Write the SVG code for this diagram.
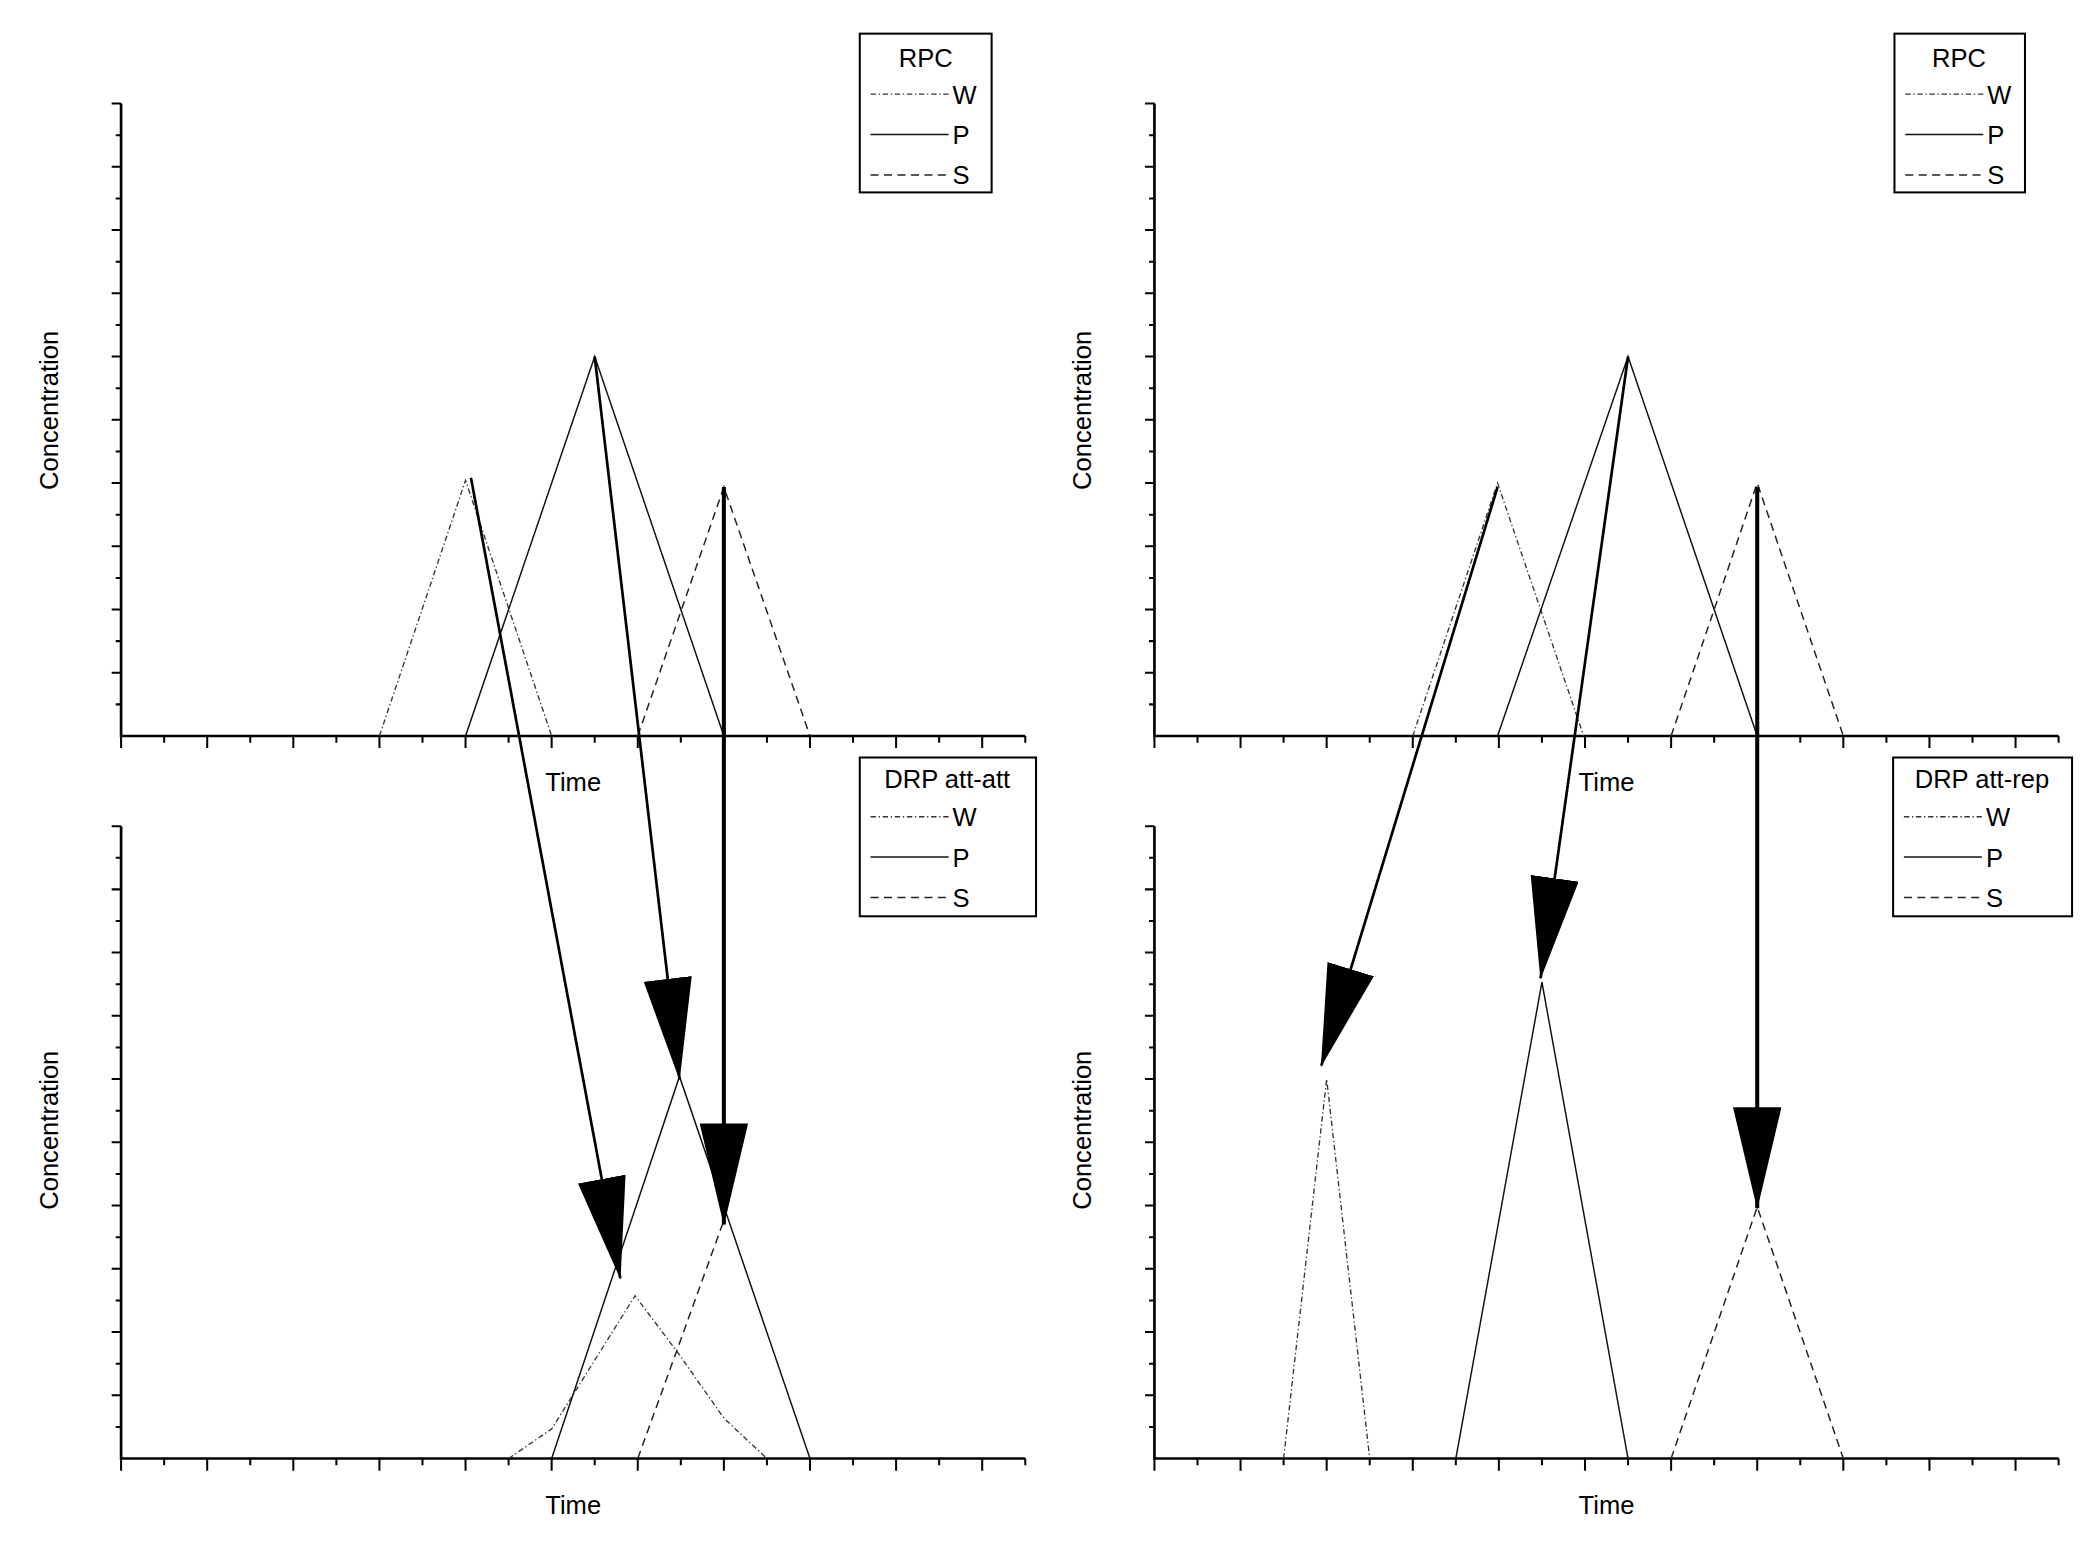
<svg xmlns="http://www.w3.org/2000/svg" width="2099" height="1553" viewBox="0 0 2099 1553">
<style>
.ax{stroke:#000;stroke-width:2;fill:none}
.tk{stroke:#000;stroke-width:1.5;fill:none}
.w{stroke:#333;stroke-width:1;fill:none;stroke-dasharray:4,2,1,2}
.p{stroke:#111;stroke-width:1.1;fill:none}
.s{stroke:#222;stroke-width:1.1;fill:none;stroke-dasharray:6,4}
.arr{stroke:#000;stroke-width:2;fill:none;marker-end:url(#ah)}
.t{font-family:"Liberation Sans",Arial,sans-serif;font-size:19px;fill:#000}
.box{fill:#fff;stroke:#000;stroke-width:1.5}
</style>
<defs>
<marker id="ah" markerUnits="userSpaceOnUse" viewBox="0 0 76 36" refX="75" refY="18" markerWidth="76" markerHeight="36" orient="auto"><path d="M0,0 L76,18 L0,36 z" fill="#000"/></marker>
<g id="yt"><path class="tk" d="M90,77h-7M90,100.5h-4M90,124h-7M90,147.5h-4M90,171h-7M90,194.5h-4M90,218h-7M90,241.5h-4M90,265h-7M90,288.5h-4M90,312h-7M90,335.5h-4M90,359h-7M90,382.5h-4M90,406h-7M90,429.5h-4M90,453h-7M90,476.5h-4M90,500h-7M90,523.5h-4"/></g>
<g id="xt"><path class="tk" d="M90,547v9M122,547v5M154,547v9M186,547v5M218,547v9M250,547v5M282,547v9M314,547v5M346,547v9M378,547v5M410,547v9M442,547v5M474,547v9M506,547v5M538,547v9M570,547v5M602,547v9M634,547v5M666,547v9M698,547v5M730,547v9M762,547v5"/></g>
<g id="frame"><path class="ax" d="M90,77V547H762"/><use href="#yt"/><use href="#xt"/></g>
</defs>
<g transform="scale(1.3455)">
<g id="panel-tl">
<use href="#frame"/>
<text class="t" x="43" y="305" text-anchor="middle" transform="rotate(-90 43 305)">Concentration</text>
<text class="t" x="426" y="588" text-anchor="middle">Time</text>
<path class="w" d="M282,547L346,357L410,547"/>
<path class="p" d="M346,547L442,265L538,547"/>
<path class="s" d="M474,547L538,362L602,547"/>
</g>
<g id="legend-tl">
<rect class="box" x="639" y="25" width="98" height="118"/>
<text class="t" x="688" y="50" text-anchor="middle">RPC</text>
<path class="w" d="M647,70H705"/><text class="t" x="708" y="77">W</text>
<path class="p" d="M647,100H705"/><text class="t" x="708" y="107">P</text>
<path class="s" d="M647,130H705"/><text class="t" x="708" y="137">S</text>
</g>
<g id="panel-bl" transform="translate(0,537)">
<use href="#frame"/>
<text class="t" x="43" y="303" text-anchor="middle" transform="rotate(-90 43 303)">Concentration</text>
<text class="t" x="426" y="588" text-anchor="middle">Time</text>
<path class="w" d="M378,547L410,525L472,426L505,470L538,517L570,547"/>
<path class="p" d="M410,547L505,263L602,547"/>
<path class="s" d="M474,547L538,370"/>
</g>
<g id="legend-bl">
<rect class="box" x="639" y="563" width="131" height="118"/>
<text class="t" x="704" y="586" text-anchor="middle">DRP att-att</text>
<path class="w" d="M647,607H705"/><text class="t" x="708" y="614">W</text>
<path class="p" d="M647,637H705"/><text class="t" x="708" y="644">P</text>
<path class="s" d="M647,667H705"/><text class="t" x="708" y="674">S</text>
</g>
<g id="panel-tr" transform="translate(768,0)">
<use href="#frame"/>
<text class="t" x="43" y="305" text-anchor="middle" transform="rotate(-90 43 305)">Concentration</text>
<text class="t" x="426" y="588" text-anchor="middle">Time</text>
<path class="w" d="M282,547L345,359L409,547"/>
<path class="p" d="M345,547L442,265L538,547"/>
<path class="s" d="M474,547L538,359L602,547"/>
</g>
<g id="legend-tr">
<rect class="box" x="1408" y="25" width="97" height="118"/>
<text class="t" x="1456" y="50" text-anchor="middle">RPC</text>
<path class="w" d="M1416,70H1474"/><text class="t" x="1477" y="77">W</text>
<path class="p" d="M1416,100H1474"/><text class="t" x="1477" y="107">P</text>
<path class="s" d="M1416,130H1474"/><text class="t" x="1477" y="137">S</text>
</g>
<g id="panel-br" transform="translate(768,537)">
<use href="#frame"/>
<text class="t" x="43" y="303" text-anchor="middle" transform="rotate(-90 43 303)">Concentration</text>
<text class="t" x="426" y="588" text-anchor="middle">Time</text>
<path class="w" d="M186,547L218,265L250,547"/>
<path class="p" d="M314,547L378,193L442,547"/>
<path class="s" d="M474,547L538,360L602,547"/>
</g>
<g id="legend-br">
<rect class="box" x="1407" y="563" width="133" height="118"/>
<text class="t" x="1473" y="586" text-anchor="middle">DRP att-rep</text>
<path class="w" d="M1415,607H1473"/><text class="t" x="1476" y="614">W</text>
<path class="p" d="M1415,637H1473"/><text class="t" x="1476" y="644">P</text>
<path class="s" d="M1415,667H1473"/><text class="t" x="1476" y="674">S</text>
</g>
<g id="connectors">
<path class="arr" d="M350,355L461,950"/>
<path class="arr" d="M442,265L505,802"/>
<path class="arr" style="stroke-width:3" d="M538,362V910"/>
<path class="arr" d="M1113,362L982,792"/>
<path class="arr" d="M1210,265L1145,727"/>
<path class="arr" style="stroke-width:3" d="M1306,362V898"/>
</g>
</g>
</svg>
